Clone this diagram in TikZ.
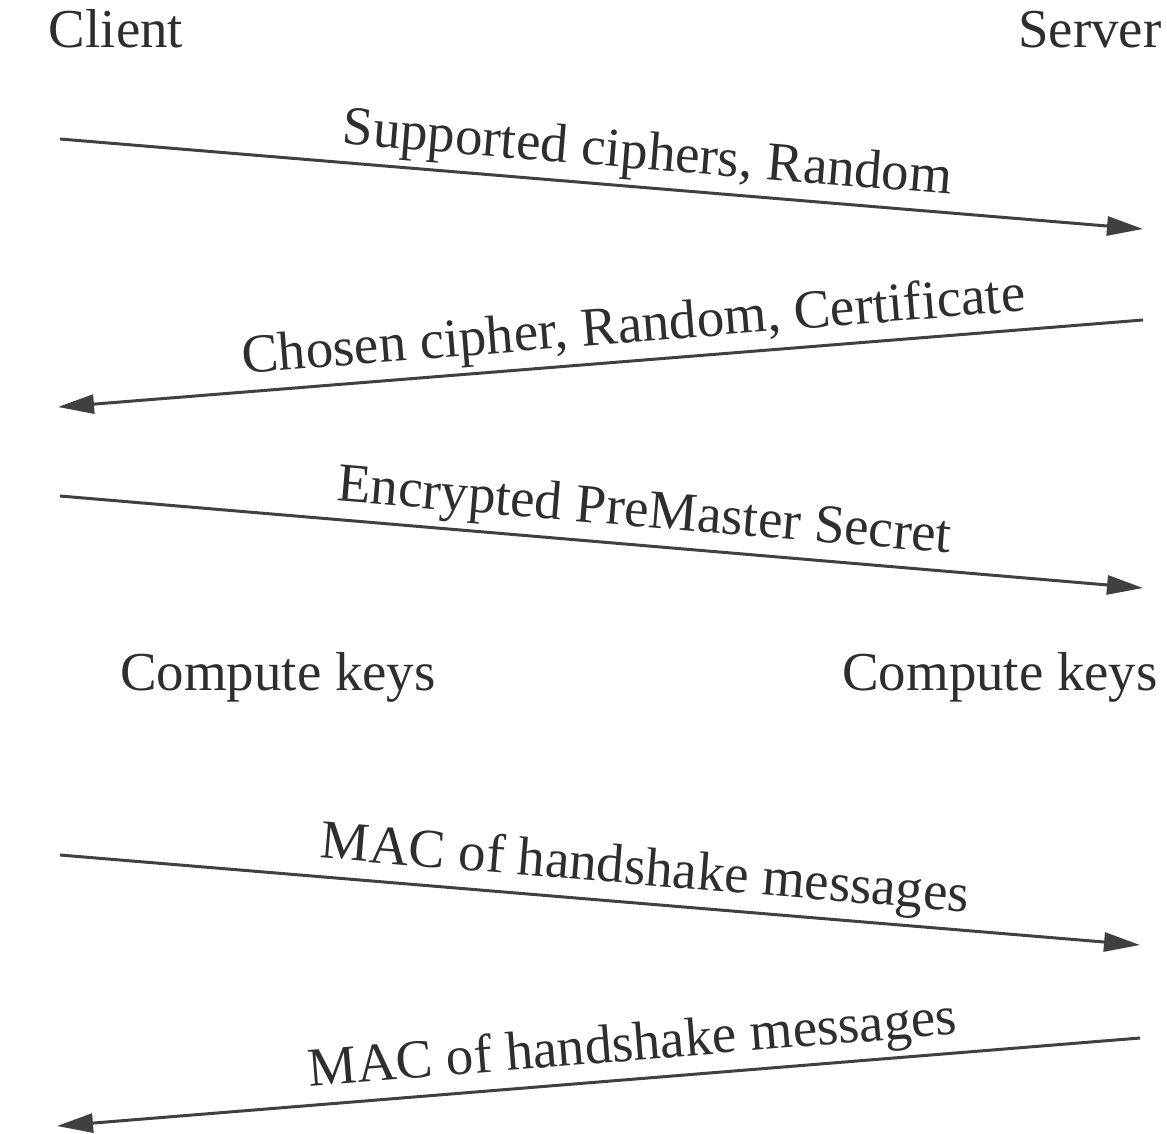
\documentclass[tikz,border=0pt]{standalone}
\usepackage{fontspec}
\setmainfont{Liberation Serif}
\usetikzlibrary{arrows.meta}
\begin{document}
\begin{tikzpicture}[x=0.01cm,y=-0.01cm,
  txt/.style={font=\fontsize{15.6}{18}\selectfont, text=black!82, inner sep=0pt},
  msg/.style={draw=black!75, line width=0.85pt, -{Triangle[length=3.6mm,width=1.9mm]}},
  lbl/.style={txt, sloped, above, inner sep=1.5pt}]
\useasboundingbox (0,0) rectangle (1167,1134);
\fill[white] (0,0) rectangle (1167,1134);
\node[txt, anchor=base] (client) at (116,48) {Client};
\node[txt, anchor=base] (server) at (1090,48) {Server};
\coordinate (c1) at (60,139);  \coordinate (s1) at (1143,229);
\coordinate (c2) at (58,407);  \coordinate (s2) at (1143,320);
\coordinate (c3) at (60,496);  \coordinate (s3) at (1143,588);
\coordinate (c5) at (60,855);  \coordinate (s5) at (1140,945);
\coordinate (c6) at (57,1126); \coordinate (s6) at (1140,1038);
\draw[msg] (c1) -- node[lbl, pos=0.54] (l1) {Supported ciphers, Random} (s1);
\draw[msg, {Triangle[length=3.6mm,width=1.9mm]}-] (c2) -- node[lbl, pos=0.533] (l2) {Chosen cipher, Random, Certificate} (s2);
\draw[msg] (c3) -- node[lbl, pos=0.537] (l3) {Encrypted PreMaster Secret} (s3);
\node[txt, anchor=base] (ck1) at (278,690) {Compute keys};
\node[txt, anchor=base] (ck2) at (1000,690) {Compute keys};
\draw[msg] (c5) -- node[lbl, pos=0.539] (l5) {MAC of handshake messages} (s5);
\draw[msg, {Triangle[length=3.6mm,width=1.9mm]}-] (c6) -- node[lbl, pos=0.534] (l6) {MAC of handshake messages} (s6);
\end{tikzpicture}
\end{document}
